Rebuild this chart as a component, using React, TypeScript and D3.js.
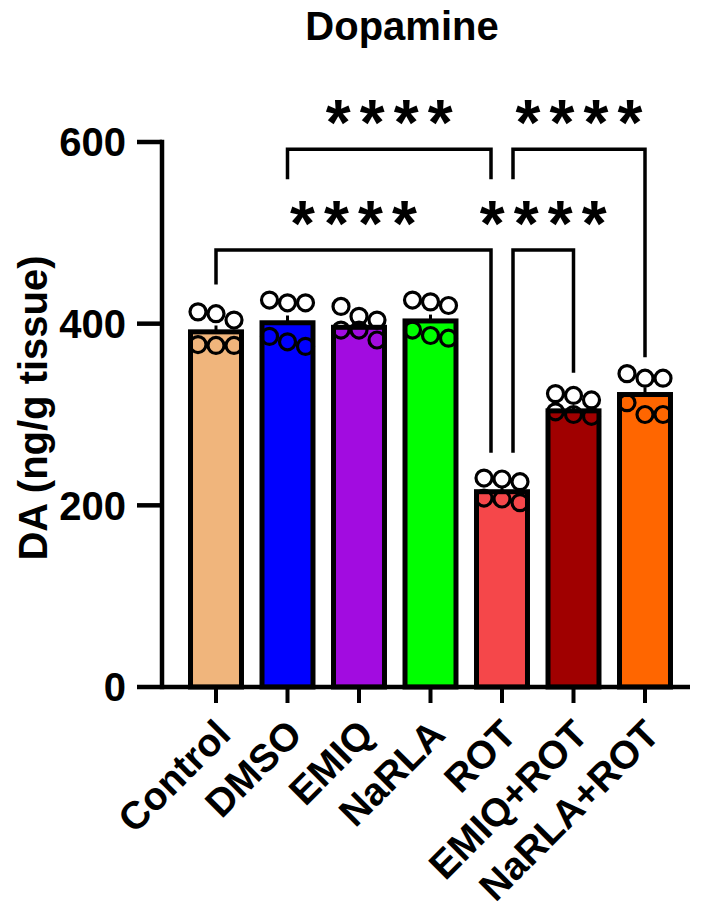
import * as d3 from "d3"

const groups = ["Control", "DMSO", "EMIQ", "NaRLA", "ROT", "EMIQ+ROT", "NaRLA+ROT"]
const fills = ["#F0B57C", "#0000FF", "#A20CE0", "#00FF00", "#F5474A", "#A00000", "#FF6600"]
const means = [391, 401, 396, 403, 215, 304, 322]
const sems = [7, 8, 5, 7, 5, 4, 8]
const points = [
  [413, 411, 404, 377, 376, 376],
  [426, 423, 423, 375, 386, 380],
  [404, 408, 419, 393, 393, 382],
  [424, 426, 420, 387, 393, 384],
  [230, 226, 229, 208, 203, 207],
  [321, 323, 316, 300, 303, 298],
  [340, 345, 340, 300, 313, 300],
]
const yTicks = [0, 200, 400, 600]

// significance brackets: ends, bar level and how far each leg drops
const comparisons = [
  { from: "DMSO", to: "ROT", level: 592, dropFrom: 559, dropTo: 559, label: "****" },
  { from: "ROT", to: "NaRLA+ROT", level: 592, dropFrom: 559, dropTo: 363, label: "****" },
  { from: "Control", to: "ROT", level: 481, dropFrom: 443, dropTo: 258, label: "****" },
  { from: "ROT", to: "EMIQ+ROT", level: 481, dropFrom: 258, dropTo: 346, label: "****" },
]

const font = "'Liberation Sans', Arial, sans-serif"

export default function App() {
  const width = 708
  const height = 916
  const axisX = 162

  const x = d3.scaleBand().domain(groups).range([180.25, 680.75]).paddingInner(0.287).paddingOuter(0.1435)
  const y = d3.scaleLinear().domain([0, 600]).range([687, 142])
  const cx = (g: string) => (x(g) ?? 0) + x.bandwidth() / 2

  // ROT is shared by several comparisons, so its legs are nudged apart
  const legX = (g: string, other: string) => {
    if (g !== "ROT") return cx(g)
    return groups.indexOf(other) < groups.indexOf(g) ? cx(g) - 11 : cx(g) + 11
  }

  return (
    <svg width={width} height={height} style={{ position: "absolute", left: 0, top: 0, background: "#fff" }} fontFamily={font}>
      <text x={402} y={40} textAnchor="middle" fontSize={40} fontWeight="bold">
        Dopamine
      </text>

      <text transform={`translate(47, 408) rotate(-90)`} textAnchor="middle" fontSize={40} fontWeight="bold">
        DA (ng/g tissue)
      </text>

      {/* bars */}
      {groups.map((g, i) => (
        <rect
          key={g}
          x={x(g)}
          y={y(means[i])}
          width={x.bandwidth()}
          height={y(0) - y(means[i])}
          fill={fills[i]}
          stroke="#000"
          strokeWidth={5}
        />
      ))}

      {/* error bars (upper half) */}
      {groups.map((g, i) => (
        <line key={g} x1={cx(g)} x2={cx(g)} y1={y(means[i])} y2={y(means[i] + sems[i])} stroke="#000" strokeWidth={3} />
      ))}

      {/* individual points, highest three on the top row */}
      {groups.map((g, i) => {
        const sorted = points[i].map((v, k) => ({ v, k })).sort((a, b) => b.v - a.v)
        return sorted.map((p, j) => (
          <circle
            key={`${g}-${p.k}`}
            cx={cx(g) + ((j % 3) - 1) * 18}
            cy={y(p.v)}
            r={8}
            fill="none"
            stroke="#000"
            strokeWidth={3.2}
          />
        ))
      })}

      {/* y axis */}
      <line x1={axisX} x2={axisX} y1={y(0)} y2={y(600)} stroke="#000" strokeWidth={4.5} strokeLinecap="square" />
      {yTicks.map((t) => (
        <g key={t}>
          <line x1={axisX - 25} x2={axisX} y1={y(t)} y2={y(t)} stroke="#000" strokeWidth={4.5} />
          <text x={126} y={y(t)} dy="0.36em" textAnchor="end" fontSize={40} fontWeight="bold">
            {t}
          </text>
        </g>
      ))}

      {/* x axis */}
      <line x1={axisX} x2={690} y1={y(0)} y2={y(0)} stroke="#000" strokeWidth={4.5} />
      {groups.map((g) => (
        <g key={g}>
          <line x1={cx(g)} x2={cx(g)} y1={y(0)} y2={y(0) + 16} stroke="#000" strokeWidth={4} />
          <text
            transform={`translate(${cx(g) + 7}, ${727}) rotate(-45)`}
            dy="0.35em"
            textAnchor="end"
            fontSize={39}
            fontWeight="bold"
          >
            {g}
          </text>
        </g>
      ))}

      {/* significance brackets */}
      {comparisons.map((c, i) => {
        const x1 = legX(c.from, c.to)
        const x2 = legX(c.to, c.from)
        const yl = y(c.level)
        const stars = c.label.split("")
        const mid = (x1 + x2) / 2
        return (
          <g key={i}>
            <path
              d={`M${x1},${y(c.dropFrom)}V${yl}H${x2}V${y(c.dropTo)}`}
              fill="none"
              stroke="#000"
              strokeWidth={3.5}
            />
            {stars.map((s, k) => (
              <text
                key={k}
                x={mid + (k - (stars.length - 1) / 2) * 34}
                y={yl - 44}
                dy="0.62em"
                textAnchor="middle"
                fontSize={64}
                fontWeight="bold"
              >
                {s}
              </text>
            ))}
          </g>
        )
      })}
    </svg>
  )
}
